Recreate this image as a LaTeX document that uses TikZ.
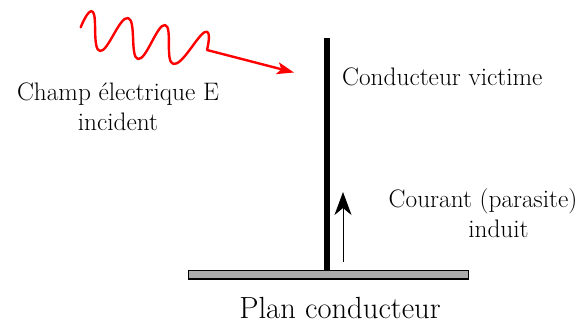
\documentclass[tikz,border=0pt]{standalone}
\usetikzlibrary{arrows.meta}
\begin{document}
\begin{tikzpicture}[x=1pt,y=-1pt,
  lbl/.style={font=\fontsize{25.3}{29.5}\selectfont, inner sep=0pt, align=center},
  wave/.style={draw=red, line width=2.4pt, line join=round, line cap=round},
  plate/.style={draw=black, fill=black!33, line width=1.6pt, inner sep=0pt, minimum width=280pt, minimum height=8.5pt}]
\useasboundingbox (0,0) rectangle (580,325);
% ground plane
\node[plate, anchor=north west] (plan) at (187.5,269.5) {};
% victim conductor
\coordinate (top) at (327,38);
\draw[line width=5.5pt] (top) -- (plan.north -| top);
% induced current arrow
\coordinate (ibot) at (343,262);
\coordinate (itop) at (343,192);
\draw[line width=0.9pt, -{Stealth[length=23pt,width=17pt,inset=7pt]}] (ibot) -- (itop);
% incident wave
\coordinate (wtip) at (294,72.5);
\draw[wave, -{Stealth[length=17pt,width=12pt,inset=4pt]}]
  plot[smooth, tension=0.8] coordinates {(80.7,27.3) (93,12) (100,51) (128,18) (138,59) (165,25) (173.5,64) (205,32) (207,50)}
  -- (wtip);
% labels
\node[lbl, anchor=base] (champ) at (118,130) {Champ électrique E\\incident};
\node[lbl, anchor=base west] (victime) at (342,85.5) {Conducteur victime};
\node[lbl, anchor=base] (courant) at (483,237) {Courant (parasite)\\\hspace*{31pt}induit};
\node[font=\fontsize{30.6}{36}\selectfont, inner sep=0pt, anchor=base] (plantxt) at (340,318.5) {Plan conducteur};
\end{tikzpicture}
\end{document}
